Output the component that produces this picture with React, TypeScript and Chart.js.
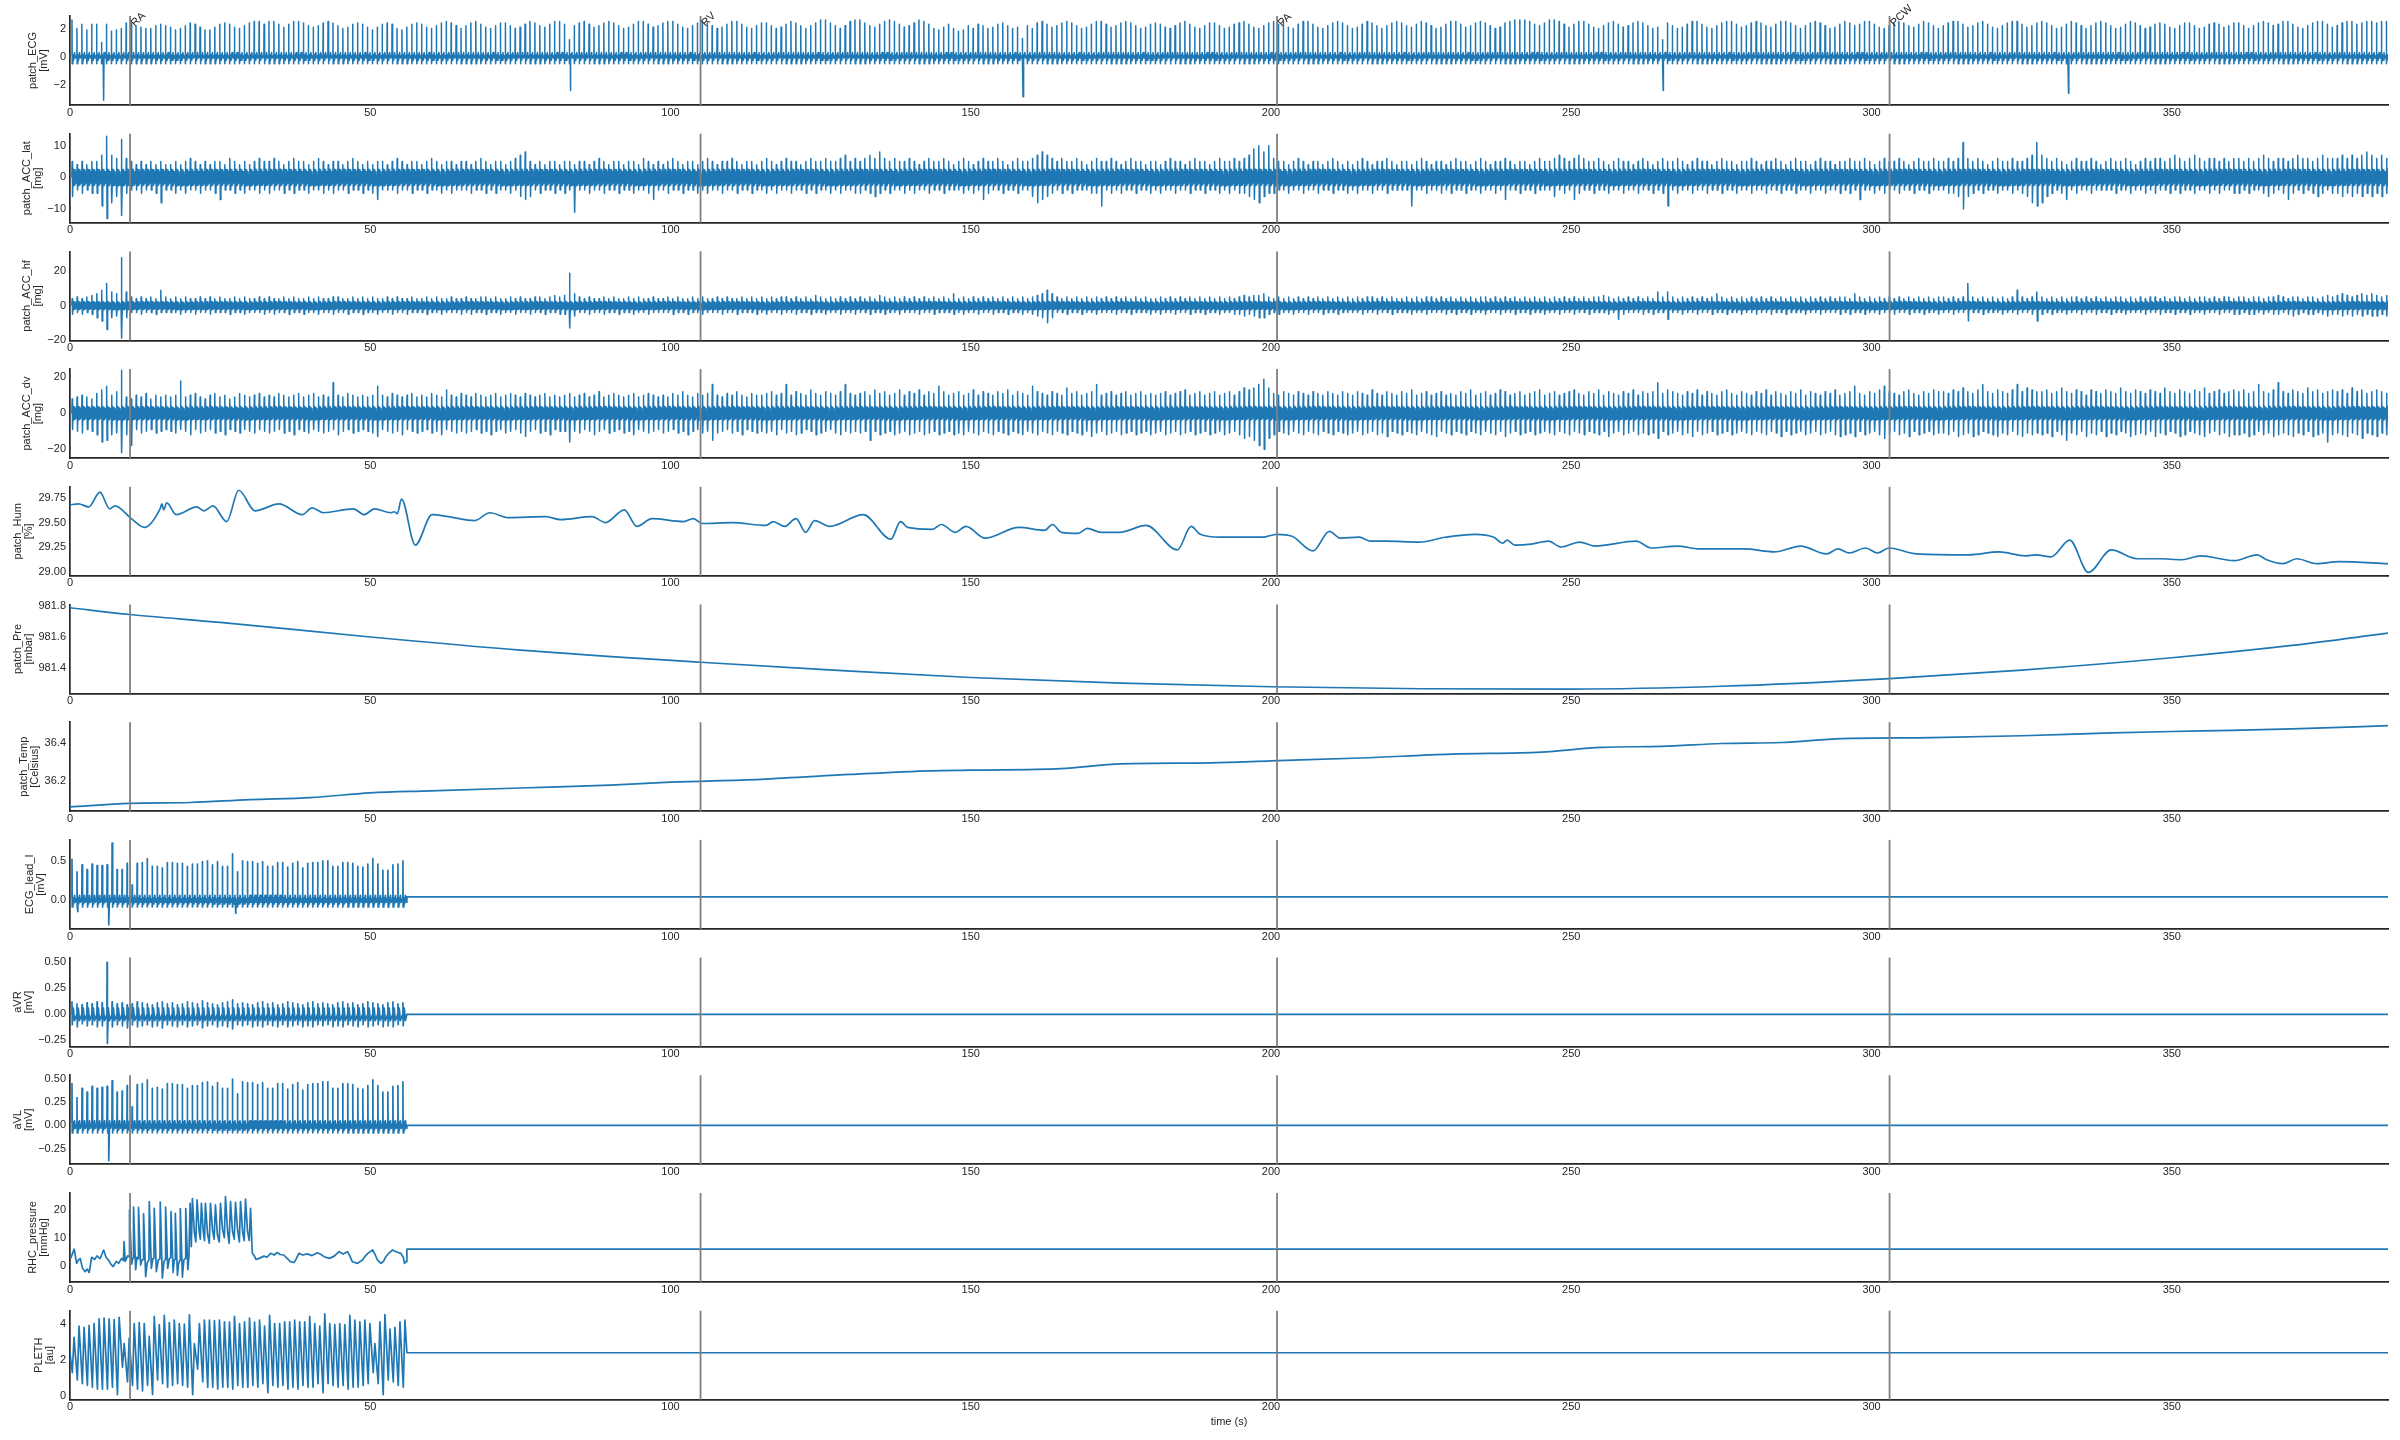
import React, { useEffect, useRef } from "react";
import { Chart, registerables } from "chart.js";

Chart.register(...registerables);

// ---------------- shared axis data ----------------
const X_MAX = 386;
const X_TICKS = [0, 50, 100, 150, 200, 250, 300, 350];
const EVENT_TIMES = [10, 105, 201, 303];
const EVENT_LABELS = ["RA", "RV", "PA", "PCW"];

// beat grids (s)
const PATCH_BEAT_START = 0.3;
const PATCH_BEAT_PERIOD = 0.82;
const CATH_BEAT_START = 0.3;
const CATH_BEAT_PERIOD = 0.835;
const CATH_END = 56.1;

// ---------------- patch_ECG [mV] ----------------
const ECG_PEAKS = [
  2.6,2.0,2.3,1.9,2.3,2.3,1.0,2.3,1.8,1.9,2.0,2.4,2.4,2.2,2.1,2.0,2.0,2.2,2.3,2.2,
  2.1,1.9,2.0,2.2,2.4,2.3,2.1,1.9,1.9,2.1,2.3,2.4,2.3,2.1,2.0,2.2,2.4,2.5,2.5,2.3,
  2.5,2.5,2.3,2.1,2.3,2.5,2.5,2.4,2.2,2.1,2.2,2.4,2.5,2.4,2.2,2.0,2.1,2.3,2.4,2.3,
  2.1,1.9,2.1,2.3,2.4,2.3,2.0,1.9,2.1,2.3,2.4,2.3,2.1,2.0,2.2,2.4,2.5,2.4,2.2,2.0,
  2.2,2.4,2.5,2.3,2.1,2.0,2.2,2.4,2.4,2.2,2.0,2.1,2.3,2.5,2.4,2.2,2.1,2.3,2.5,2.5,
  2.3,1.2,2.2,2.4,2.5,2.3,2.1,2.2,2.4,2.5,2.4,2.2,2.0,2.1,2.3,2.5,2.5,2.3,2.1,2.2,
  2.4,2.5,2.5,2.3,2.1,2.0,2.2,2.4,2.5,2.4,2.2,2.0,2.1,2.3,2.5,2.5,2.3,2.1,2.0,2.2,
  2.4,2.4,2.2,2.0,2.1,2.3,2.5,2.4,2.2,2.0,2.2,2.4,2.6,2.6,2.4,2.2,2.0,2.2,2.5,2.6,
  2.6,2.4,2.2,2.1,2.3,2.5,2.6,2.5,2.3,2.1,2.2,2.4,2.6,2.5,2.3,2.0,1.9,2.1,2.3,2.0,
  1.8,1.9,2.2,2.0,2.3,2.2,2.0,2.1,2.3,2.4,2.2,2.0,2.1,1.3,2.2,2.0,2.4,2.5,2.3,2.1,
  2.2,2.4,2.5,2.4,2.2,2.0,2.1,2.3,2.5,2.5,2.3,2.1,2.2,2.4,2.5,2.4,2.2,2.0,2.1,2.3,
  2.4,2.3,2.1,2.0,2.2,2.4,2.5,2.3,2.1,2.0,2.2,2.4,2.4,2.2,2.0,2.1,2.3,2.4,2.5,2.3,
  2.1,2.0,2.2,2.4,2.5,2.3,2.5,2.1,2.0,2.3,2.5,2.5,2.3,2.1,2.0,2.2,2.4,2.5,2.4,2.2,
  2.0,2.1,2.3,2.5,2.4,2.2,2.0,2.2,2.4,2.5,2.4,2.2,2.1,2.3,2.5,2.4,2.2,2.0,2.1,2.3,
  2.5,2.5,2.3,2.1,2.2,2.4,2.5,2.4,2.2,2.0,2.1,2.4,2.5,2.6,2.6,2.6,2.5,2.3,2.2,2.4,
  2.6,2.6,2.5,2.3,2.1,2.3,2.5,2.5,2.3,2.1,2.0,2.2,2.4,2.5,2.3,2.1,2.2,2.4,2.5,2.4,
  2.2,2.0,2.1,1.2,2.4,2.2,2.0,2.1,2.3,2.5,2.5,2.3,2.1,2.0,2.2,2.4,2.5,2.5,2.3,2.1,
  2.2,2.4,2.5,2.4,2.2,2.1,2.3,2.5,2.5,2.4,2.2,2.0,2.2,2.4,2.5,2.4,2.2,2.0,2.1,2.3,
  2.5,2.4,2.2,2.3,2.5,2.5,2.3,2.1,2.0,2.2,2.4,2.5,2.4,2.2,2.1,2.3,2.5,2.4,2.2,2.0,
  2.2,2.4,2.5,2.5,2.3,2.1,2.2,2.4,2.5,2.3,2.1,2.0,2.2,2.4,2.5,2.5,2.3,2.1,2.2,2.4,
  2.5,2.4,2.2,2.0,2.1,2.3,2.5,2.4,2.2,2.0,2.2,2.4,2.5,2.4,2.2,2.0,2.1,2.3,2.5,2.4,
  2.2,2.0,2.1,2.3,2.4,2.3,2.1,2.0,2.2,2.4,2.4,2.2,2.0,2.1,2.3,2.4,2.3,2.1,2.2,2.4,
  2.4,2.2,2.0,2.2,2.4,2.5,2.4,2.2,2.3,2.5,2.5,2.3,2.1,2.0,2.2,2.4,2.5,2.5,2.3,2.1,
  2.2,2.4,2.5,2.5,2.3,2.4,2.5,2.5,2.4,2.5,2.5,
];
const ECG_ARTIFACT_T = [5.6, 83.3, 158.7, 265.3, 332.8];
const ECG_ARTIFACT_V = [-3.1, -2.4, -2.85, -2.4, -2.6];
const ECG_SHAPE_T = [0, 0.03, 0.07, 0.18, 0.3, 0.45, 0.6];
const ECG_BASE = [0.1, -0.5, 0.15, -0.25, 0.3, -0.1];

// ---------------- patch_ACC_lat [mg] ----------------
const ACC_LAT_UP = [
  5,4,5,4,5,5,7,13,7,6,12,6,5,4,5,4,5,4,5,4,
  4,5,4,5,6,5,4,5,4,5,5,4,6,5,4,5,4,5,6,5,
  5,6,5,4,5,6,5,5,4,5,6,5,4,5,5,4,5,6,5,4,
  5,4,5,5,4,5,6,5,4,5,5,4,5,6,5,4,5,5,4,5,
  5,4,5,6,5,4,5,5,4,5,6,7,8,5,4,5,4,5,5,4,
  5,5,4,5,5,4,5,6,5,4,5,5,4,5,5,4,6,5,4,5,
  4,5,6,5,4,5,5,4,5,6,5,4,5,5,6,5,4,5,5,4,
  5,6,5,4,5,6,5,5,4,5,6,5,5,6,5,5,6,7,5,6,
  5,6,7,6,8,6,5,6,5,5,6,5,4,5,6,5,5,6,5,4,
  5,6,5,4,5,6,5,5,6,5,4,5,6,5,5,6,7,8,7,6,
  5,6,5,5,6,5,4,5,6,5,5,6,5,4,5,6,5,5,4,5,
  5,4,5,6,5,5,4,5,6,5,5,4,5,6,5,5,6,5,6,7,
  9,10,8,10,6,5,5,4,5,6,5,4,5,5,4,5,6,5,4,5,
  4,5,6,5,4,5,5,6,5,4,5,5,4,5,6,5,4,5,5,4,
  5,6,5,5,4,5,6,5,4,5,5,6,5,4,5,5,4,5,6,5,
  5,6,7,6,5,6,7,6,5,5,6,5,4,5,6,5,5,4,5,6,
  5,4,5,6,5,5,6,5,4,5,6,5,5,4,5,6,5,5,4,5,
  5,6,5,4,5,5,6,5,4,5,6,5,5,4,5,6,5,5,4,5,
  5,6,5,5,6,5,4,5,6,5,5,6,5,4,5,6,5,5,6,5,
  5,6,5,6,11,6,5,6,5,4,5,6,5,5,6,5,5,6,7,11,
  7,6,5,6,5,4,5,6,5,5,6,5,4,5,6,5,5,6,5,4,
  5,6,5,6,6,5,6,7,6,5,6,7,6,5,6,6,5,6,5,6,
  6,5,6,5,6,7,6,5,6,6,5,6,7,6,6,5,6,7,6,6,
  6,7,6,7,6,7,8,7,6,7,6,
];
const ACC_LAT_DOWN = [
  -6,-4,-5,-4,-5,-5,-9,-13,-8,-6,-12,-5,-4,-4,-5,-4,-4,-5,-8,-4,
  -4,-5,-4,-5,-4,-4,-5,-4,-4,-5,-7,-4,-4,-5,-4,-5,-4,-4,-5,-4,
  -5,-4,-4,-5,-4,-5,-4,-4,-5,-4,-4,-5,-4,-5,-4,-4,-5,-4,-4,-5,
  -4,-5,-7,-4,-4,-4,-5,-4,-4,-5,-4,-4,-5,-4,-4,-5,-4,-5,-4,-4,
  -4,-5,-4,-4,-5,-4,-5,-4,-4,-5,-4,-6,-7,-6,-4,-5,-4,-4,-5,-4,
  -5,-4,-11,-4,-4,-5,-4,-4,-5,-4,-4,-5,-4,-4,-5,-4,-4,-5,-7,-4,
  -4,-5,-4,-4,-5,-4,-4,-5,-4,-5,-4,-4,-5,-4,-4,-5,-4,-4,-5,-4,
  -4,-5,-4,-5,-4,-4,-5,-4,-4,-5,-4,-5,-4,-4,-5,-4,-5,-4,-4,-5,
  -5,-4,-5,-6,-5,-4,-5,-4,-4,-5,-4,-5,-4,-4,-5,-4,-4,-5,-4,-4,
  -4,-5,-4,-5,-4,-7,-5,-4,-4,-5,-4,-4,-5,-4,-4,-6,-8,-7,-6,-5,
  -4,-5,-4,-5,-4,-4,-4,-5,-5,-9,-4,-5,-4,-5,-4,-4,-5,-4,-4,-5,
  -4,-5,-4,-4,-5,-4,-4,-5,-4,-4,-5,-4,-4,-5,-4,-5,-4,-5,-5,-6,
  -7,-8,-6,-5,-5,-4,-4,-5,-4,-4,-5,-4,-4,-5,-4,-4,-5,-4,-4,-5,
  -4,-5,-4,-4,-5,-4,-4,-5,-4,-4,-4,-4,-9,-4,-4,-5,-4,-4,-5,-4,
  -5,-4,-4,-5,-4,-4,-5,-4,-4,-5,-4,-7,-4,-4,-5,-4,-4,-5,-4,-4,
  -4,-6,-4,-5,-4,-7,-5,-4,-4,-5,-4,-4,-5,-4,-4,-5,-4,-4,-5,-4,
  -4,-5,-4,-5,-9,-4,-5,-4,-4,-5,-4,-4,-5,-4,-4,-5,-4,-4,-5,-4,
  -4,-5,-4,-4,-5,-4,-4,-5,-4,-4,-5,-4,-4,-5,-4,-4,-5,-4,-4,-5,
  -4,-5,-4,-7,-4,-4,-5,-4,-5,-4,-4,-5,-4,-4,-5,-4,-4,-5,-4,-4,
  -4,-5,-5,-6,-10,-6,-5,-4,-5,-4,-4,-5,-4,-4,-5,-4,-5,-6,-8,-9,
  -8,-6,-5,-4,-5,-7,-4,-5,-4,-4,-5,-4,-4,-4,-4,-5,-4,-4,-5,-4,
  -4,-5,-4,-5,-4,-4,-5,-4,-5,-4,-4,-5,-4,-4,-5,-4,-5,-4,-4,-5,
  -5,-4,-5,-4,-4,-5,-6,-5,-4,-5,-7,-5,-4,-5,-4,-5,-6,-5,-4,-5,
  -5,-6,-5,-6,-5,-6,-5,-6,-5,-6,-5,
];
const ACC_LAT_BAND = [0, 2.6, -2.6, 2.4, -2.4, 1.8, -1.8];

// ---------------- patch_ACC_hf [mg] ----------------
const ACC_HF_UP = [
  4,5,4,5,6,7,9,13,8,7,28,8,5,4,5,4,5,4,9,5,
  4,5,4,5,4,4,5,4,5,4,5,4,4,5,4,5,4,4,5,4,
  5,4,4,5,4,5,4,4,5,4,5,4,4,5,5,4,4,5,4,5,
  4,5,4,4,5,4,5,4,4,5,4,4,5,4,5,4,4,5,4,4,
  5,4,4,5,5,4,5,4,4,5,4,5,4,4,5,5,4,5,6,5,
  6,19,7,5,4,5,4,4,5,4,5,4,4,5,4,5,4,4,5,4,
  4,5,4,5,4,4,5,4,5,4,4,5,4,5,4,4,5,4,5,4,
  5,4,5,4,5,5,4,5,4,5,4,6,5,4,5,4,5,4,5,4,
  5,4,5,4,6,5,4,5,4,5,4,5,4,5,4,5,4,5,4,7,
  4,5,4,5,4,5,4,5,4,5,4,5,4,5,4,5,6,7,9,7,
  5,4,5,4,5,4,5,4,5,4,5,4,5,4,5,4,5,4,5,4,
  4,5,4,5,4,5,4,5,4,5,4,5,4,5,4,5,4,5,6,5,
  6,6,7,5,4,5,4,5,4,5,4,5,4,5,4,5,4,5,4,5,
  4,5,4,5,5,4,5,4,5,4,4,5,4,5,4,5,5,4,5,4,
  5,4,5,4,5,4,5,5,4,5,4,5,4,5,4,5,4,5,4,5,
  4,5,4,5,4,5,4,5,4,5,5,6,5,4,5,4,5,4,5,4,
  5,4,8,5,8,5,4,5,4,5,4,5,4,5,7,5,4,5,4,5,
  4,5,4,5,4,5,4,5,4,5,4,5,4,5,4,5,4,5,4,5,
  5,4,7,5,4,5,4,5,4,5,4,5,4,5,4,5,4,5,4,5,
  5,4,5,4,5,13,5,4,5,4,5,4,5,4,5,9,5,4,5,8,
  5,4,5,4,5,4,5,5,4,5,4,5,4,5,4,5,5,4,5,4,
  5,4,5,5,4,5,4,5,5,4,5,4,5,5,4,5,4,5,5,4,
  5,5,4,5,5,4,5,5,6,5,4,5,5,4,5,5,4,5,6,5,
  6,7,6,5,6,7,6,7,6,5,6,
];
const ACC_HF_DOWN = [
  -5,-4,-5,-4,-5,-7,-9,-14,-7,-6,-19,-7,-4,-4,-5,-4,-4,-5,-4,-4,
  -4,-4,-5,-4,-4,-5,-4,-4,-5,-4,-4,-4,-5,-4,-4,-5,-4,-4,-4,-5,
  -4,-5,-4,-4,-5,-4,-4,-5,-4,-4,-5,-4,-4,-5,-4,-4,-5,-4,-4,-5,
  -4,-4,-5,-4,-4,-5,-4,-4,-5,-4,-4,-4,-5,-4,-4,-5,-4,-4,-4,-5,
  -4,-5,-4,-4,-5,-4,-4,-5,-4,-4,-5,-4,-4,-5,-4,-4,-5,-4,-4,-5,
  -5,-13,-6,-4,-4,-5,-4,-4,-5,-4,-4,-5,-4,-4,-5,-4,-4,-5,-4,-4,
  -4,-4,-5,-4,-4,-5,-4,-4,-5,-4,-4,-4,-5,-4,-4,-5,-4,-4,-4,-5,
  -4,-5,-4,-4,-5,-4,-4,-5,-4,-4,-5,-4,-4,-5,-4,-4,-5,-4,-4,-5,
  -4,-4,-5,-4,-4,-5,-4,-4,-5,-4,-4,-4,-5,-4,-4,-5,-4,-4,-4,-5,
  -4,-5,-4,-4,-5,-4,-4,-5,-4,-4,-5,-4,-4,-5,-4,-5,-6,-7,-10,-7,
  -4,-4,-5,-4,-4,-5,-4,-4,-5,-4,-4,-4,-5,-4,-4,-5,-4,-4,-4,-5,
  -4,-5,-4,-4,-5,-4,-4,-5,-4,-4,-5,-4,-4,-5,-4,-4,-5,-5,-6,-5,
  -6,-7,-7,-5,-4,-5,-4,-4,-5,-4,-4,-5,-4,-4,-5,-4,-4,-5,-4,-4,
  -4,-4,-5,-4,-4,-5,-4,-4,-5,-4,-4,-4,-5,-4,-4,-5,-4,-4,-4,-5,
  -4,-5,-4,-4,-5,-4,-4,-5,-4,-4,-5,-4,-4,-5,-4,-4,-5,-4,-4,-5,
  -4,-4,-5,-4,-4,-5,-4,-4,-5,-4,-4,-4,-5,-4,-8,-5,-4,-4,-4,-5,
  -4,-5,-4,-4,-8,-4,-4,-5,-4,-4,-5,-4,-4,-5,-4,-4,-5,-4,-4,-5,
  -4,-4,-5,-4,-4,-5,-4,-4,-5,-4,-4,-4,-5,-4,-4,-5,-4,-4,-4,-5,
  -4,-5,-4,-4,-5,-4,-4,-5,-4,-4,-5,-4,-4,-5,-4,-4,-5,-4,-4,-5,
  -4,-4,-5,-4,-4,-9,-4,-4,-5,-4,-4,-4,-5,-4,-4,-5,-4,-4,-5,-9,
  -5,-4,-5,-4,-4,-5,-4,-4,-5,-4,-4,-5,-4,-4,-5,-4,-4,-5,-4,-4,
  -4,-5,-4,-4,-5,-4,-4,-5,-4,-4,-5,-4,-4,-5,-4,-4,-5,-4,-4,-5,
  -5,-4,-5,-5,-4,-5,-4,-5,-5,-4,-5,-6,-5,-4,-5,-5,-4,-5,-6,-5,
  -5,-6,-5,-6,-5,-6,-5,-6,-6,-5,-6,
];
const ACC_HF_BAND = [0, 2.4, -2.4, 2.1, -2.1, 1.6, -1.6];

// ---------------- patch_ACC_dv [mg] ----------------
const ACC_DV_UP = [
  8,9,10,9,8,11,13,15,10,12,24,9,8,10,9,11,8,10,9,10,
  9,10,18,9,10,11,9,8,10,11,9,10,8,9,11,10,9,10,11,9,
  10,9,11,10,9,10,11,9,10,11,9,10,9,17,10,9,11,10,9,10,
  9,10,15,10,9,11,10,9,10,11,9,10,9,11,10,9,13,10,9,11,
  10,9,11,10,9,10,11,9,10,11,10,9,11,10,9,10,11,9,10,9,
  10,11,9,10,11,9,10,12,9,10,11,10,9,10,11,9,10,11,10,9,
  10,9,11,10,12,10,9,11,10,11,16,10,9,11,10,12,10,9,11,10,
  10,11,12,10,11,16,10,12,11,10,13,11,10,12,11,10,12,16,11,10,
  11,12,10,13,11,12,10,11,13,10,12,11,13,10,12,11,15,12,10,11,
  12,10,11,13,10,12,11,10,12,11,13,10,12,11,10,15,12,11,10,12,
  11,10,14,11,12,10,11,12,16,10,11,12,10,11,12,10,11,12,10,11,
  10,11,12,10,11,12,13,10,11,12,10,11,12,10,11,12,10,12,14,13,
  14,16,19,14,11,10,12,11,10,12,11,10,12,11,10,12,11,10,12,11,
  10,12,11,10,13,11,10,12,11,10,12,11,13,10,11,12,10,11,12,10,
  11,10,12,11,13,10,11,12,10,11,13,12,10,11,12,10,11,12,13,10,
  11,12,10,11,12,13,11,10,12,11,13,10,12,11,10,12,11,13,10,12,
  11,12,17,11,13,12,11,10,12,11,13,10,12,11,10,12,13,11,10,12,
  11,10,12,11,13,10,12,11,10,12,11,13,10,12,11,10,12,11,13,10,
  11,12,15,11,10,12,11,13,15,12,11,10,12,13,11,10,12,11,13,12,
  12,11,13,12,14,12,11,13,16,12,11,13,12,11,13,16,12,14,13,12,
  12,13,11,12,14,12,11,13,12,10,13,12,11,13,12,11,14,12,11,13,
  12,11,13,12,11,14,12,11,13,12,11,13,12,14,11,12,13,11,12,13,
  12,13,11,12,16,12,11,13,17,12,11,13,12,11,14,12,13,11,12,13,
  12,13,11,14,12,13,11,12,13,12,11,
];
const ACC_DV_DOWN = [
  -9,-10,-11,-9,-10,-12,-16,-15,-12,-11,-22,-12,-18,-9,-11,-10,-9,-11,-10,-9,
  -10,-11,-9,-10,-12,-9,-11,-10,-9,-11,-10,-12,-9,-10,-11,-9,-10,-11,-9,-10,
  -11,-10,-9,-11,-10,-12,-9,-10,-11,-9,-10,-11,-10,-9,-12,-10,-9,-11,-10,-9,
  -10,-11,-13,-9,-10,-11,-10,-12,-9,-10,-11,-10,-9,-11,-10,-12,-9,-10,-11,-10,
  -11,-10,-9,-11,-10,-12,-10,-9,-11,-10,-9,-11,-13,-10,-9,-11,-10,-12,-9,-10,
  -10,-16,-10,-11,-9,-10,-12,-10,-9,-11,-10,-9,-11,-10,-12,-9,-10,-11,-10,-9,
  -11,-10,-9,-11,-10,-12,-10,-9,-11,-10,-15,-11,-10,-9,-11,-10,-12,-9,-10,-11,
  -10,-11,-10,-12,-9,-11,-10,-12,-11,-9,-10,-12,-11,-10,-9,-11,-12,-10,-11,-10,
  -11,-10,-15,-10,-12,-11,-10,-12,-11,-10,-12,-11,-10,-12,-11,-10,-12,-11,-10,-12,
  -11,-12,-10,-11,-12,-10,-11,-12,-10,-11,-12,-10,-11,-12,-10,-11,-12,-10,-11,-12,
  -10,-11,-12,-10,-11,-12,-10,-13,-11,-10,-12,-11,-10,-12,-11,-10,-12,-11,-10,-12,
  -11,-10,-12,-11,-10,-12,-11,-10,-12,-11,-10,-12,-11,-10,-12,-11,-10,-12,-14,-13,
  -15,-18,-20,-14,-12,-10,-11,-12,-10,-11,-12,-10,-11,-12,-10,-11,-12,-10,-11,-12,
  -11,-10,-12,-11,-10,-12,-11,-13,-10,-11,-12,-10,-11,-12,-10,-11,-12,-13,-10,-11,
  -12,-10,-11,-12,-10,-11,-12,-10,-11,-12,-10,-13,-11,-10,-12,-11,-10,-12,-11,-10,
  -11,-12,-10,-11,-12,-10,-11,-12,-10,-11,-12,-10,-13,-11,-10,-12,-11,-10,-12,-11,
  -12,-11,-14,-10,-12,-11,-10,-12,-11,-13,-10,-12,-11,-10,-12,-11,-10,-12,-11,-10,
  -11,-12,-10,-11,-12,-10,-11,-13,-10,-12,-11,-10,-12,-11,-10,-12,-11,-10,-12,-13,
  -12,-11,-13,-10,-12,-11,-10,-12,-14,-11,-10,-12,-11,-13,-10,-12,-11,-10,-12,-11,
  -11,-12,-10,-13,-12,-11,-13,-12,-10,-11,-12,-13,-11,-12,-10,-12,-13,-11,-12,-11,
  -12,-11,-13,-10,-12,-15,-11,-12,-10,-13,-11,-12,-10,-13,-11,-12,-10,-11,-13,-12,
  -11,-12,-10,-13,-11,-12,-10,-11,-13,-12,-10,-11,-12,-13,-11,-10,-12,-11,-13,-12,
  -12,-11,-13,-12,-10,-12,-11,-13,-12,-11,-12,-13,-11,-12,-10,-13,-12,-11,-16,-12,
  -11,-12,-13,-11,-12,-14,-11,-12,-13,-11,-12,
];
const ACC_DV_BAND = [0, 3.8, -3.8, 3.4, -3.4, 2.6, -2.6];
const ACC_SHAPE_T = [0, 0.06, 0.13, 0.23, 0.33, 0.43, 0.53, 0.63, 0.73];

// ---------------- patch_Hum [%] ----------------
const HUM_T = [0,1.4,3.1,5.0,5.3,6.6,7.5,10.2,12.4,15.0,15.3,15.6,16.1,17.7,21.1,22.3,23.8,26.1,28.1,30.8,34.8,38.7,40.3,42.2,47.2,49,50.7,53.4,54.0,54.5,55.2,57.5,60.3,63,67.4,69.9,73,79.2,81.7,86.9,89.2,92.3,94.4,96.9,102.2,103.8,105.3,110.3,115.9,117.1,119,120.9,122.5,124,126.5,132.1,136.7,138.3,139.5,143.6,145.1,147.4,149.2,152.4,158,162.3,163.6,165.1,167.9,169.4,171.7,174.8,179.2,184.4,186.7,188.2,191.7,198.5,201,203.5,207,209.7,211.6,214.7,216.6,219.1,224.7,229,234,237.1,238.6,239.3,240.6,243.3,246.2,248.3,251.4,253.9,260.8,263.3,267.6,271.4,278.8,283.8,288.2,292.5,294.4,296.3,299,301,302.9,307.5,316.2,321.2,325.6,327.4,329.9,333,336.1,339.9,344.2,348,351.7,354.8,360.4,364.2,365.8,368.5,370.8,374.1,377.9,386];
const HUM_V = [29.68,29.69,29.66,29.81,29.79,29.64,29.67,29.54,29.45,29.64,29.69,29.63,29.70,29.58,29.66,29.62,29.67,29.51,29.83,29.62,29.69,29.58,29.65,29.60,29.64,29.58,29.64,29.60,29.61,29.59,29.74,29.27,29.58,29.56,29.52,29.60,29.55,29.56,29.53,29.56,29.50,29.63,29.46,29.54,29.51,29.54,29.49,29.50,29.47,29.51,29.46,29.54,29.40,29.52,29.46,29.58,29.33,29.51,29.45,29.43,29.48,29.40,29.46,29.34,29.45,29.42,29.48,29.40,29.39,29.44,29.40,29.40,29.47,29.22,29.46,29.38,29.35,29.35,29.38,29.36,29.21,29.41,29.34,29.35,29.31,29.31,29.30,29.35,29.38,29.35,29.29,29.32,29.27,29.28,29.31,29.25,29.30,29.26,29.31,29.24,29.26,29.23,29.23,29.20,29.26,29.18,29.23,29.19,29.24,29.19,29.24,29.18,29.17,29.20,29.16,29.17,29.15,29.32,28.99,29.22,29.13,29.13,29.12,29.16,29.11,29.17,29.12,29.08,29.13,29.08,29.10,29.08];

// ---------------- patch_Pre [mbar] ----------------
const PRE_T = [0,10,25,50,75,105,125,150,175,200,225,250,275,303,325,350,370,386];
const PRE_V = [981.79,981.746,981.695,981.60,981.515,981.436,981.39,981.337,981.30,981.277,981.264,981.262,981.28,981.33,981.385,981.465,981.545,981.625];

// ---------------- patch_Temp [Celsius] ----------------
const TEMP_T = [0,10,20,30,40,50,60,75,90,100,115,130,140,150,165,175,190,200,215,230,245,255,265,275,285,295,310,325,340,355,370,386];
const TEMP_V = [36.067,36.085,36.09,36.105,36.115,36.14,36.15,36.165,36.18,36.195,36.21,36.235,36.25,36.257,36.265,36.29,36.295,36.305,36.32,36.34,36.35,36.375,36.38,36.395,36.40,36.42,36.425,36.435,36.45,36.46,36.47,36.487];

// ---------------- ECG_lead_I [mV] ----------------
const LEAD_I_PEAKS = [
  0.52,0.36,0.45,0.39,0.46,0.44,0.44,0.45,0.73,0.39,
  0.39,0.47,0.19,0.47,0.48,0.53,0.43,0.43,0.41,0.48,
  0.48,0.47,0.47,0.43,0.46,0.46,0.49,0.50,0.45,0.49,
  0.43,0.43,0.59,0.36,0.50,0.49,0.49,0.47,0.49,0.43,
  0.43,0.48,0.48,0.42,0.47,0.49,0.41,0.47,0.48,0.48,
  0.50,0.50,0.43,0.43,0.48,0.48,0.47,0.43,0.42,0.46,
  0.53,0.46,0.38,0.38,0.45,0.46,0.50,
];
const LEAD_I_BASE = [0.02, -0.09, 0.03, -0.05, 0.06, -0.03];
const LEAD_I_ARTIFACT_T = [1.3, 6.45, 27.6, CATH_END, X_MAX];
const LEAD_I_ARTIFACT_V = [-0.15, -0.32, -0.17, 0.04, 0.04];

// ---------------- aVR [mV] ----------------
const AVR_UP = [
  0.12,0.10,0.09,0.11,0.10,0.12,0.11,0.50,0.12,0.10,
  0.11,0.09,0.10,0.12,0.11,0.10,0.09,0.11,0.12,0.10,
  0.11,0.09,0.10,0.12,0.11,0.10,0.13,0.11,0.10,0.09,
  0.11,0.12,0.14,0.10,0.11,0.10,0.09,0.11,0.12,0.10,
  0.11,0.09,0.10,0.12,0.11,0.10,0.09,0.11,0.12,0.10,
  0.11,0.10,0.09,0.11,0.12,0.10,0.11,0.09,0.10,0.12,
  0.11,0.10,0.09,0.11,0.12,0.10,0.11,
];
const AVR_DOWN = [
  -0.10,-0.12,-0.09,-0.11,-0.10,-0.12,-0.11,-0.28,-0.12,-0.10,
  -0.11,-0.13,-0.10,-0.12,-0.11,-0.10,-0.12,-0.11,-0.13,-0.10,
  -0.11,-0.12,-0.10,-0.12,-0.11,-0.10,-0.13,-0.11,-0.10,-0.12,
  -0.11,-0.12,-0.14,-0.10,-0.11,-0.10,-0.12,-0.11,-0.12,-0.10,
  -0.11,-0.12,-0.10,-0.12,-0.11,-0.10,-0.12,-0.11,-0.12,-0.10,
  -0.11,-0.10,-0.12,-0.11,-0.12,-0.10,-0.11,-0.12,-0.10,-0.12,
  -0.11,-0.10,-0.12,-0.11,-0.12,-0.10,-0.11,
];
const AVR_BAND = [0, 0.06, -0.06, 0.05, -0.05];
const AVR_TAIL_T = [CATH_END, X_MAX];
const AVR_TAIL_V = [0.0, 0.0];

// ---------------- aVL [mV] ----------------
const AVL_PEAKS = [
  0.45,0.30,0.40,0.36,0.42,0.40,0.41,0.42,0.48,0.36,
  0.37,0.43,0.20,0.44,0.45,0.49,0.40,0.41,0.39,0.45,
  0.45,0.44,0.44,0.40,0.43,0.43,0.46,0.47,0.42,0.46,
  0.40,0.40,0.50,0.34,0.47,0.46,0.46,0.44,0.46,0.40,
  0.40,0.45,0.45,0.39,0.44,0.46,0.38,0.44,0.45,0.45,
  0.47,0.47,0.40,0.40,0.45,0.45,0.44,0.40,0.39,0.43,
  0.49,0.43,0.36,0.36,0.42,0.43,0.47,
];
const AVL_BASE = [0.02, -0.08, 0.04, -0.05, 0.05, -0.03];
const AVL_ARTIFACT_T = [6.45, CATH_END, X_MAX];
const AVL_ARTIFACT_V = [-0.38, 0.0, 0.0];

// ---------------- RHC_pressure [mmHg] ----------------
const RHC_T = [
  0.1,0.7,1.1,1.4,1.7,2.1,2.5,2.9,3.2,3.6,4.1,4.5,5.0,5.3,5.6,6.0,6.4,6.8,7.2,7.7,8.1,8.6,8.9,9.0,9.2,9.6,9.85,
  9.91,10.26,10.45,10.53,10.58,10.93,11.15,11.36,11.41,11.76,11.98,12.2,12.25,12.6,12.85,13.15,
  13.2,13.55,13.8,13.98,14.03,14.38,14.7,14.98,15.03,15.38,15.65,15.87,15.92,16.27,16.55,16.77,
  16.82,17.17,17.35,17.49,17.54,17.89,18.1,18.32,18.37,18.72,18.95,19.22,19.27,19.62,19.8,
  20.0,20.2,20.38,20.7,20.95,21.16,21.5,21.7,21.88,22.2,22.4,22.55,22.9,23.2,23.39,23.75,24.0,
  24.22,24.55,24.85,25.06,25.4,25.7,25.89,26.25,26.5,26.73,27.05,27.35,27.56,27.9,28.2,28.4,
  28.75,29.0,29.23,29.55,29.85,30.07,30.35,
  30.6,31.0,31.5,32.3,32.8,33.4,34.0,34.5,35.0,35.6,36.2,36.7,37.3,37.7,38.1,38.8,39.5,40.3,
  41.2,41.8,42.3,43.2,44.0,44.8,45.5,46.2,46.6,47.0,47.9,48.3,48.7,49.2,49.6,50.4,50.8,51.2,
  51.8,52.2,52.6,53.1,53.7,54.3,55.1,55.5,55.7,56.0,56.1,386,
];
const RHC_V = [
  2.6,5.9,0.8,2.0,2.6,-1.0,-2.2,-1.3,-2.5,3.0,2.2,3.5,2.5,4.0,5.6,3.0,2.0,0.5,-0.4,1.5,0.8,2.6,1.8,8.6,1.5,3.5,3.2,
  20.0,0.5,2.5,2.8,21.0,-1.5,3.0,2.5,20.9,0.2,2.0,2.2,18.6,-4.0,1.0,2.0,
  23.0,-1.0,2.5,2.6,20.6,-2.2,2.0,2.4,22.8,-4.5,1.5,2.2,21.0,-1.0,2.5,2.8,
  19.4,-2.5,2.0,2.2,18.8,-3.5,1.0,2.0,20.5,-4.2,2.0,2.6,20.5,-1.5,3.0,
  22.4,6.8,24.1,12.0,8.5,23.6,12.5,9.5,22.4,12.0,9.0,22.4,11.5,8.0,22.4,12.5,9.5,
  21.8,11.0,8.5,22.4,13.0,10.0,24.8,12.0,8.0,23.0,12.5,9.5,22.7,13.0,8.5,23.0,
  12.0,9.0,23.9,12.5,9.0,20.6,4.5,
  3.8,2.2,2.6,3.4,3.0,4.4,3.8,4.7,4.0,3.8,2.5,1.4,1.1,2.5,4.4,3.8,4.2,3.6,
  4.6,4.0,3.2,2.6,3.4,5.0,4.2,5.0,3.5,1.4,0.8,1.5,2.0,3.5,4.4,5.6,4.0,2.0,
  0.8,1.5,3.2,4.5,5.6,5.0,4.4,3.0,0.8,1.5,5.9,5.9,
];

// ---------------- PLETH [au] ----------------
const PLETH_PEAKS = [
  3.25,3.86,3.80,3.90,4.00,4.26,4.30,4.26,4.22,4.35,
  2.90,3.20,4.00,4.06,4.00,3.30,4.40,3.95,4.46,4.06,
  4.20,4.00,3.97,4.48,2.90,4.00,4.20,4.20,4.17,4.20,
  4.10,4.08,4.40,4.00,4.10,4.30,4.08,4.20,3.86,4.46,
  4.00,4.00,4.10,4.10,4.20,4.10,4.10,4.40,4.00,3.86,
  4.54,4.00,3.95,4.00,3.95,4.45,4.20,4.10,4.20,4.00,
  2.90,4.10,4.50,3.70,3.80,4.10,4.20,
];
const PLETH_TROUGHS = [
  1.3,0.9,0.7,0.6,0.5,0.4,0.4,0.4,0.5,0.1,
  1.6,0.8,0.6,0.4,0.3,0.6,0.1,0.9,0.7,0.5,
  0.6,0.7,0.6,0.5,0.1,1.5,0.8,0.5,0.5,0.4,
  0.5,0.5,0.4,0.6,0.5,0.5,0.6,0.5,0.7,0.2,
  0.6,0.5,0.6,0.4,0.5,0.4,0.6,0.5,0.5,0.7,
  0.2,0.7,0.6,0.5,0.6,0.4,0.5,0.5,0.6,0.7,
  1.3,0.7,0.1,0.9,0.8,0.6,0.5,
];
const PLETH_SHAPE_T = [0, 0.28];
const PLETH_TAIL_T = [0, 56.1, X_MAX];
const PLETH_TAIL_V = [2.4, 2.4, 2.4];

// ---------------- panel titles / ticks ----------------
const TITLES = [
  ["patch_ECG", "[mV]"], ["patch_ACC_lat", "[mg]"], ["patch_ACC_hf", "[mg]"], ["patch_ACC_dv", "[mg]"],
  ["patch_Hum", "[%]"], ["patch_Pre", "[mbar]"], ["patch_Temp", "[Celsius]"], ["ECG_lead_I", "[mV]"],
  ["aVR", "[mV]"], ["aVL", "[mV]"], ["RHC_pressure", "[mmHg]"], ["PLETH", "[au]"],
];
const Y_RANGES = [
  [-3.43, 2.89], [-14.3, 13.8], [-20.3, 31.7], [-25, 24.6], [28.956, 29.865], [981.233, 981.811],
  [36.045, 36.505], [-0.372, 0.77], [-0.31, 0.545], [-0.42, 0.54], [-5.9, 26.1], [-0.18, 4.71],
];
const Y_TICKS = [
  [-2, 0, 2], [-10, 0, 10], [-20, 0, 20], [-20, 0, 20], [29.0, 29.25, 29.5, 29.75], [981.4, 981.6, 981.8],
  [36.2, 36.4], [0, 0.5], [-0.25, 0, 0.25, 0.5], [-0.25, 0, 0.25, 0.5], [0, 10, 20], [0, 2, 4],
];
const Y_TICK_LABELS = [
  ["\u22122", "0", "2"], ["\u221210", "0", "10"], ["\u221220", "0", "20"], ["\u221220", "0", "20"],
  ["29.00", "29.25", "29.50", "29.75"], ["981.4", "981.6", "981.8"], ["36.2", "36.4"], ["0.0", "0.5"],
  ["\u22120.25", "0.00", "0.25", "0.50"], ["\u22120.25", "0.00", "0.25", "0.50"], ["0", "10", "20"], ["0", "2", "4"],
];
const X_LABEL = "time (s)";

// ---------------- builders ----------------
type Pt = { x: number; y: number };
type Slot = number | number[];

function beatTrace(start: number, period: number, shapeT: number[], slots: Slot[], extraT: number[] = [], extraV: number[] = []): Pt[] {
  const arrays = slots.filter((s) => Array.isArray(s)) as number[][];
  const n = Math.min(...arrays.map((a) => a.length));
  const pts: Pt[] = [];
  for (let i = 0; i < n; i++) {
    const t0 = start + i * period;
    for (let k = 0; k < shapeT.length; k++) {
      const s = slots[k];
      pts.push({ x: t0 + shapeT[k], y: Array.isArray(s) ? s[i] : s });
    }
  }
  extraT.forEach((t, k) => pts.push({ x: t, y: extraV[k] }));
  pts.sort((a, b) => a.x - b.x);
  return pts;
}
function pairs(T: number[], V: number[]): Pt[] {
  return T.map((t, k) => ({ x: t, y: V[k] }));
}
function accSlots(up: number[], down: number[], band: number[]): Slot[] {
  return [band[0], up, down, band[1], band[2], band[3], band[4], band[5], band[6]];
}
function ecgSlots(peaks: number[], base: number[]): Slot[] {
  return [base[0], peaks, base[1], base[2], base[3], base[4], base[5]];
}

function buildSeries(): { pts: Pt[]; smooth: boolean; dense: boolean }[] {
  return [
    { pts: beatTrace(PATCH_BEAT_START, PATCH_BEAT_PERIOD, ECG_SHAPE_T, ecgSlots(ECG_PEAKS, ECG_BASE), ECG_ARTIFACT_T, ECG_ARTIFACT_V), smooth: false, dense: true },
    { pts: beatTrace(PATCH_BEAT_START, PATCH_BEAT_PERIOD, ACC_SHAPE_T, accSlots(ACC_LAT_UP, ACC_LAT_DOWN, ACC_LAT_BAND)), smooth: false, dense: true },
    { pts: beatTrace(PATCH_BEAT_START, PATCH_BEAT_PERIOD, ACC_SHAPE_T, accSlots(ACC_HF_UP, ACC_HF_DOWN, ACC_HF_BAND)), smooth: false, dense: true },
    { pts: beatTrace(PATCH_BEAT_START, PATCH_BEAT_PERIOD, ACC_SHAPE_T, accSlots(ACC_DV_UP, ACC_DV_DOWN, ACC_DV_BAND)), smooth: false, dense: true },
    { pts: pairs(HUM_T, HUM_V), smooth: true, dense: false },
    { pts: pairs(PRE_T, PRE_V), smooth: true, dense: false },
    { pts: pairs(TEMP_T, TEMP_V), smooth: true, dense: false },
    { pts: beatTrace(CATH_BEAT_START, CATH_BEAT_PERIOD, ECG_SHAPE_T, ecgSlots(LEAD_I_PEAKS, LEAD_I_BASE), LEAD_I_ARTIFACT_T, LEAD_I_ARTIFACT_V), smooth: false, dense: false },
    { pts: beatTrace(CATH_BEAT_START, CATH_BEAT_PERIOD, [0, 0.03, 0.08, 0.25, 0.45], [AVR_BAND[0], AVR_UP, AVR_DOWN, AVR_BAND[1], AVR_BAND[2]], AVR_TAIL_T, AVR_TAIL_V), smooth: false, dense: false },
    { pts: beatTrace(CATH_BEAT_START, CATH_BEAT_PERIOD, ECG_SHAPE_T, ecgSlots(AVL_PEAKS, AVL_BASE), AVL_ARTIFACT_T, AVL_ARTIFACT_V), smooth: false, dense: false },
    { pts: pairs(RHC_T, RHC_V), smooth: false, dense: false },
    { pts: beatTrace(CATH_BEAT_START + 0.09, CATH_BEAT_PERIOD, PLETH_SHAPE_T, [PLETH_TROUGHS, PLETH_PEAKS], PLETH_TAIL_T, PLETH_TAIL_V), smooth: false, dense: false },
  ];
}

// ---------------- layout / style ----------------
const FONT_FAMILY = "'Liberation Sans', Arial, Helvetica, sans-serif";
const TEXT_COLOR = "#262626";
const LINE_COLOR = "#1f77b4";
const EVENT_COLOR = "#808080";
const AREA_LEFT = 70;
const AREA_RIGHT = 2388;
const FIRST_TOP = 16;
const PANEL_STEP = 117.7;
const AREA_HEIGHT = 89;
const ABOVE = 16;

function panelGeom(i: number, last: boolean) {
  const areaTop = FIRST_TOP + PANEL_STEP * i;
  const canvasTop = Math.floor(areaTop) - ABOVE;
  const padTop = areaTop - canvasTop;
  const xAxisH = last ? 29 : 20;
  const height = Math.ceil(padTop + AREA_HEIGHT + xAxisH);
  const padBottom = height - padTop - AREA_HEIGHT - xAxisH;
  return { canvasTop, padTop, xAxisH, height, padBottom };
}

const eventMarks = {
  id: "eventMarks",
  afterDatasetsDraw(chart: any, _args: any, opts: any) {
    const { ctx, chartArea, scales } = chart;
    ctx.save();
    ctx.strokeStyle = EVENT_COLOR;
    ctx.lineWidth = 1.8;
    EVENT_TIMES.forEach((t, k) => {
      const x = scales.x.getPixelForValue(t);
      ctx.beginPath();
      ctx.moveTo(x, chartArea.top);
      ctx.lineTo(x, chartArea.bottom);
      ctx.stroke();
      if (opts && opts.showLabels) {
        ctx.save();
        ctx.translate(x + 5, chartArea.top + 11);
        ctx.rotate(-Math.PI / 4);
        ctx.font = `11px ${FONT_FAMILY}`;
        ctx.fillStyle = TEXT_COLOR;
        ctx.textAlign = "left";
        ctx.textBaseline = "alphabetic";
        ctx.fillText(EVENT_LABELS[k], 0, 0);
        ctx.restore();
      }
    });
    ctx.restore();
  },
};

export default function App() {
  const refs = useRef<(HTMLCanvasElement | null)[]>([]);
  const n = TITLES.length;

  useEffect(() => {
    const series = buildSeries();
    const measure = document.createElement("canvas").getContext("2d") as CanvasRenderingContext2D;
    measure.font = `11px ${FONT_FAMILY}`;
    const charts: Chart[] = [];
    for (let i = 0; i < n; i++) {
      const canvas = refs.current[i];
      if (!canvas) continue;
      const last = i === n - 1;
      const g = panelGeom(i, last);
      const labels = Y_TICK_LABELS[i];
      const widest = Math.max(...labels.map((l) => measure.measureText(l).width));
      const titlePad = Math.max(0, 40 - widest);
      const ticks = Y_TICKS[i];
      const cfg: any = {
        type: "line",
        data: {
          datasets: [
            {
              data: series[i].pts,
              borderColor: LINE_COLOR,
              borderWidth: series[i].dense ? 1.5 : 1.7,
              pointRadius: 0,
              fill: false,
              tension: series[i].smooth ? 0.4 : 0,
              cubicInterpolationMode: series[i].smooth ? "monotone" : "default",
              borderJoinStyle: "round",
            },
          ],
        },
        options: {
          animation: false,
          responsive: false,
          maintainAspectRatio: false,
          devicePixelRatio: 1,
          parsing: false,
          normalized: true,
          events: [],
          layout: { padding: { top: g.padTop, right: 2400 - AREA_RIGHT, bottom: g.padBottom, left: 0 } },
          plugins: { legend: { display: false }, tooltip: { enabled: false }, eventMarks: { showLabels: i === 0 } },
          scales: {
            x: {
              type: "linear",
              min: 0,
              max: X_MAX,
              grid: { display: false, drawTicks: false },
              border: { display: true, color: TEXT_COLOR, width: 1.7 },
              ticks: { padding: 1, autoSkip: false, maxRotation: 0, font: { family: FONT_FAMILY, size: 11 }, color: TEXT_COLOR, callback: (v: any) => String(v) },
              afterBuildTicks: (s: any) => { s.ticks = X_TICKS.map((v) => ({ value: v })); },
              afterFit: (s: any) => { s.height = g.xAxisH; },
              title: { display: last, text: X_LABEL, font: { family: FONT_FAMILY, size: 11 }, color: TEXT_COLOR, padding: 0 },
            },
            y: {
              type: "linear",
              min: Y_RANGES[i][0],
              max: Y_RANGES[i][1],
              grid: { display: false, drawTicks: false },
              border: { display: true, color: TEXT_COLOR, width: 1.7 },
              ticks: { padding: 4, autoSkip: false, font: { family: FONT_FAMILY, size: 11 }, color: TEXT_COLOR, callback: (_v: any, idx: number) => labels[idx] },
              afterBuildTicks: (s: any) => { s.ticks = ticks.map((v) => ({ value: v })); },
              afterFit: (s: any) => { s.width = AREA_LEFT; },
              title: { display: true, text: TITLES[i], font: { family: FONT_FAMILY, size: 11, lineHeight: 1 }, color: TEXT_COLOR, padding: { top: titlePad, bottom: 0 } },
            },
          },
        },
        plugins: [eventMarks],
      };
      charts.push(new Chart(canvas, cfg));
    }
    return () => charts.forEach((c) => c.destroy());
  }, []);

  return (
    <div style={{ position: "absolute", left: 0, top: 0, width: 2400, height: 1440, background: "#ffffff", overflow: "hidden" }}>
      {TITLES.map((_, i) => {
        const g = panelGeom(i, i === n - 1);
        return (
          <canvas
            key={i}
            ref={(el) => { refs.current[i] = el; }}
            width={2400}
            height={g.height}
            style={{ position: "absolute", left: 0, top: g.canvasTop, width: 2400, height: g.height }}
          />
        );
      })}
    </div>
  );
}
